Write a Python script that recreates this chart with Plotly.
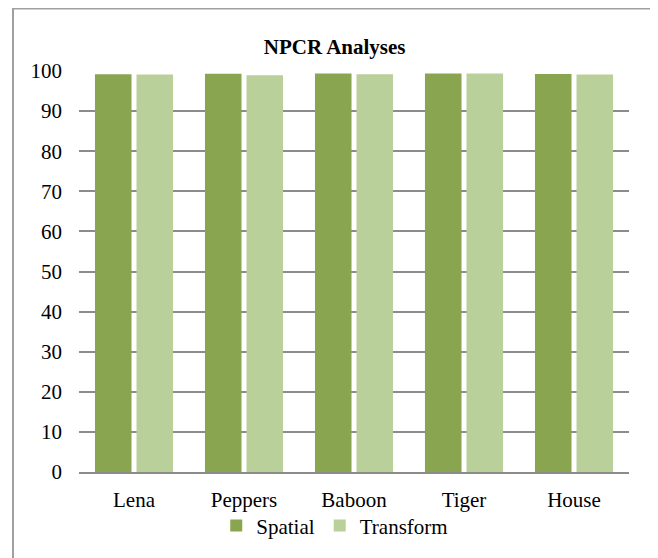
from plotly import graph_objects as go

# NPCR values (%)
images = ["Lena", "Peppers", "Baboon", "Tiger", "House"]
spatial = [99.2, 99.3, 99.4, 99.35, 99.25]
transform = [99.1, 98.95, 99.2, 99.35, 99.1]
y_ticks = [0, 10, 20, 30, 40, 50, 60, 70, 80, 90, 100]

SPATIAL_COLOR = "#8aa550"
TRANSFORM_COLOR = "#bad09a"
GRID_COLOR = "#8c8c8c"
FONT = "Liberation Serif, Times New Roman, serif"

fig = go.Figure()
fig.add_trace(go.Bar(name="Spatial", x=images, y=spatial, marker=dict(color=SPATIAL_COLOR, line=dict(width=0))))
fig.add_trace(go.Bar(name="Transform", x=images, y=transform, marker=dict(color=TRANSFORM_COLOR, line=dict(width=0))))

# page body has an 8px margin, so the figure is a bit smaller than the window
fig.update_layout(
    width=650,
    height=550,
    margin=dict(l=71, r=29, t=63, b=84),
    paper_bgcolor="white",
    plot_bgcolor="white",
    font=dict(family=FONT, size=21, color="black"),
    barmode="group",
    bargap=0.245,
    bargroupgap=0.12,
    title=dict(
        text="<b>NPCR Analyses</b>",
        x=0.5025,
        xanchor="center",
        y=1 - 39 / 550,
        yanchor="middle",
        font=dict(family=FONT, size=21, color="black"),
    ),
    legend=dict(
        orientation="h",
        x=0.465,
        xanchor="center",
        y=-0.134,
        yanchor="middle",
        font=dict(family=FONT, size=21),
        bgcolor="rgba(0,0,0,0)",
        itemwidth=30,
    ),
    showlegend=True,
)

fig.update_xaxes(
    showgrid=False,
    showline=True,
    linecolor=GRID_COLOR,
    linewidth=2,
    ticks="",
    ticklabelstandoff=8,
    tickfont=dict(size=21),
)
fig.update_yaxes(
    range=[0, 100],
    tickvals=y_ticks,
    showgrid=True,
    gridcolor=GRID_COLOR,
    gridwidth=2,
    zeroline=False,
    showline=False,
    ticks="",
    ticklabelstandoff=16,
    tickfont=dict(size=21),
)

# outer chart border
fig.add_shape(
    type="rect",
    xref="paper",
    yref="paper",
    x0=-0.12,
    x1=1.049,
    y0=-0.4,
    y1=1.156,
    line=dict(color="#a0a0a0", width=2),
    fillcolor="rgba(0,0,0,0)",
    layer="below",
)

fig.write_html("out.html")
